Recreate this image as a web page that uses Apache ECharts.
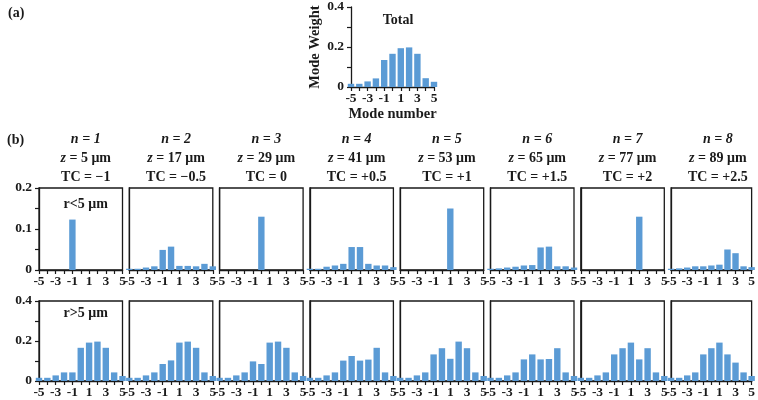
<!DOCTYPE html>
<html><head><meta charset="utf-8">
<script src="https://cdn.jsdelivr.net/npm/echarts@6/dist/echarts.min.js"></script>
<style>html,body{margin:0;padding:0;background:#fff}#c{width:758px;height:400px}</style>
</head><body><div id="c"></div>
<script>
const modes = [-5,-4,-3,-2,-1,0,1,2,3,4,5];
const total = [0.016,0.016,0.028,0.043,0.135,0.166,0.194,0.198,0.166,0.044,0.026];
const inner_n1 = [0,0,0,0,0.123,0,0,0,0,0,0];
const inner_n2 = [0.003,0.003,0.006,0.009,0.049,0.057,0.010,0.010,0.009,0.015,0.009];
const inner_n3 = [0,0,0,0,0,0.130,0,0,0,0,0];
const inner_n4 = [0.003,0.003,0.008,0.011,0.015,0.056,0.056,0.015,0.011,0.011,0.007];
const inner_n5 = [0,0,0,0,0,0,0.150,0,0,0,0];
const inner_n6 = [0.003,0.004,0.006,0.008,0.011,0.012,0.055,0.057,0.009,0.009,0.006];
const inner_n7 = [0,0,0,0,0,0,0,0.130,0,0,0];
const inner_n8 = [0.003,0.004,0.006,0.009,0.009,0.011,0.013,0.050,0.041,0.009,0.007];
const outer_n1 = [0.016,0.016,0.028,0.043,0.043,0.166,0.192,0.197,0.166,0.043,0.025];
const outer_n2 = [0.016,0.016,0.028,0.043,0.085,0.103,0.192,0.197,0.166,0.043,0.025];
const outer_n3 = [0.016,0.016,0.028,0.043,0.098,0.085,0.192,0.197,0.166,0.043,0.025];
const outer_n4 = [0.016,0.016,0.028,0.043,0.102,0.125,0.102,0.107,0.166,0.043,0.025];
const outer_n5 = [0.016,0.016,0.028,0.043,0.133,0.164,0.111,0.197,0.164,0.043,0.025];
const outer_n6 = [0.016,0.016,0.028,0.043,0.108,0.133,0.108,0.110,0.164,0.043,0.025];
const outer_n7 = [0.016,0.016,0.028,0.043,0.133,0.164,0.192,0.108,0.164,0.043,0.025];
const outer_n8 = [0.016,0.016,0.028,0.043,0.133,0.164,0.192,0.133,0.092,0.043,0.025];
const innerSets = [inner_n1,inner_n2,inner_n3,inner_n4,inner_n5,inner_n6,inner_n7,inner_n8];
const outerSets = [outer_n1,outer_n2,outer_n3,outer_n4,outer_n5,outer_n6,outer_n7,outer_n8];
const nLabels = ['1','2','3','4','5','6','7','8'];
const zLabels = ['5','17','29','41','53','65','77','89'];
const tcLabels = ['\u22121','\u22120.5','0','+0.5','+1','+1.5','+2','+2.5'];

const FONT = "'Liberation Serif','Times New Roman',serif";
const INK = '#1a1a1a';
const BLUE = '#5b9bd5';

const grids = [], xAxes = [], yAxes = [], series = [], titles = [];

function addPanel(left, top, width, height, vals, ymax, yint, showY, boxed, extra) {
  const gi = grids.length;
  grids.push({left: left, top: top, width: width, height: height, show: boxed,
    borderColor: INK, borderWidth: 1.3, backgroundColor: 'transparent', containLabel: false});
  xAxes.push(Object.assign({type: 'value', gridIndex: gi, min: -5, max: 5, interval: 1, position: 'bottom',
    axisLine: {show: true, onZero: false, lineStyle: {color: INK, width: 1.3}},
    axisTick: {show: true, inside: false, length: 4, lineStyle: {color: INK, width: 1.2}},
    splitLine: {show: false},
    axisLabel: {show: true, margin: 5, showMinLabel: true, showMaxLabel: true,
      color: INK, fontFamily: FONT, fontWeight: 'bold', fontSize: 13.5,
      formatter: v => (Math.abs(v) % 2 === 1) ? String(v) : ''}
  }, extra && extra.x || {}));
  yAxes.push(Object.assign({type: 'value', gridIndex: gi, min: 0, max: ymax, interval: yint, position: 'left',
    axisLine: {show: true, onZero: false, lineStyle: {color: INK, width: 1.3}},
    axisTick: {show: showY, inside: false, length: 4, lineStyle: {color: INK, width: 1.2}},
    splitLine: {show: false},
    axisLabel: {show: showY, margin: 7, showMinLabel: true, showMaxLabel: true,
      color: INK, fontFamily: FONT, fontWeight: 'bold', fontSize: 13.5,
      formatter: v => {
        const k = Math.round(v / yint);
        return (k % 2 === 0) ? String(+v.toFixed(2)) : '';
      }}
  }, extra && extra.y || {}));
  series.push({type: 'bar', xAxisIndex: gi, yAxisIndex: gi, clip: true, barWidth: 6.4,
    itemStyle: {color: BLUE},
    data: modes.map((m, i) => [m, vals[i]])});
}

// (a) total
addPanel(351, 6, 83, 81, total, 0.4, 0.1, true, false, {
  x: {name: 'Mode number', nameLocation: 'middle', nameGap: 17,
      nameTextStyle: {color: INK, fontFamily: FONT, fontWeight: 'bold', fontSize: 14.5}},
  y: {name: 'Mode Weight', nameLocation: 'middle', nameGap: 26, nameRotate: 90,
      nameTextStyle: {color: INK, fontFamily: FONT, fontWeight: 'bold', fontSize: 14.5}}
});

const PL = 39, PITCH = 90.3, PW = 83.5;
for (let i = 0; i < 8; i++) {
  const left = PL + i * PITCH;
  addPanel(left, 188, PW, 82, innerSets[i], 0.2, 0.05, i === 0, true);
  addPanel(left, 301, PW, 82, outerSets[i], 0.4, 0.1, i === 0, true);
  titles.push({
    text: '{i|n = ' + nLabels[i] + '}\n{i|z} = ' + zLabels[i] + ' \u03bcm\nTC = ' + tcLabels[i],
    left: left + PW / 2, top: 125, textAlign: 'center',
    textStyle: {color: INK, fontFamily: FONT, fontWeight: 'bold', fontSize: 14, lineHeight: 19,
      rich: {i: {fontFamily: FONT, fontWeight: 'bold', fontStyle: 'italic', fontSize: 14, color: INK, lineHeight: 19}}}
  });
}

const textStyleBase = {color: INK, fontFamily: FONT, fontWeight: 'bold', fontSize: 14};
titles.push({text: '(a)', left: 3, top: 1, textStyle: textStyleBase});
titles.push({text: '(b)', left: 2, top: 128, textStyle: textStyleBase});
titles.push({text: 'Total', left: 393, top: 8, textAlign: 'center', textStyle: textStyleBase});
titles.push({text: 'r<5 \u03bcm', left: PL + PW / 2, top: 192, textAlign: 'center', textStyle: textStyleBase});
titles.push({text: 'r>5 \u03bcm', left: PL + PW / 2, top: 301, textAlign: 'center', textStyle: textStyleBase});

const chart = echarts.init(document.getElementById('c'), null, {renderer: 'canvas'});
chart.setOption({
  animation: false,
  backgroundColor: '#fff',
  title: titles,
  grid: grids, xAxis: xAxes, yAxis: yAxes, series: series
});
</script></body></html>
